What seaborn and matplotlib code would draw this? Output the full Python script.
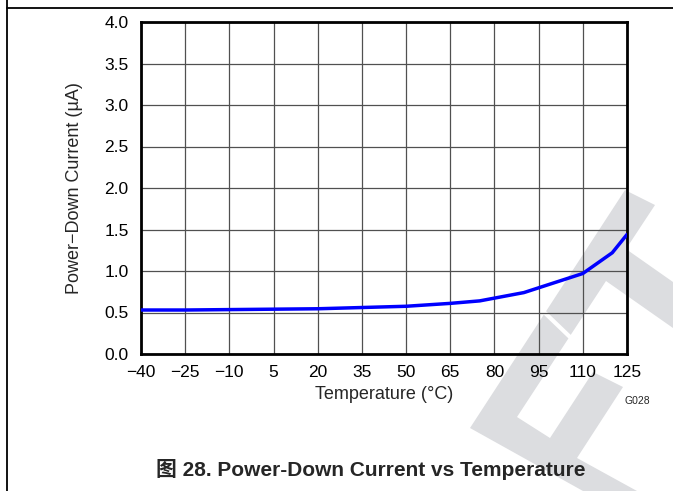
import matplotlib
matplotlib.use('Agg')
import matplotlib.pyplot as plt
import seaborn as sns
import numpy as np
from matplotlib.patches import Polygon
from matplotlib.lines import Line2D

# values
temps = [-40, -25, -10, 5, 20, 35, 50, 65, 75, 90, 110, 120, 125]
current = [0.53, 0.53, 0.535, 0.54, 0.545, 0.56, 0.575, 0.61, 0.64, 0.74, 0.97, 1.22, 1.44]
x_ticks = list(range(-40, 126, 15))
y_ticks = [0.0, 0.5, 1.0, 1.5, 2.0, 2.5, 3.0, 3.5, 4.0]

sns.set_style('white')
plt.rcParams['font.family'] = ['Liberation Sans', 'Noto Sans CJK SC', 'DejaVu Sans']

W, H = 673, 491
fig = plt.figure(figsize=(W / 100, H / 100), dpi=100)

def fx(px):
    return px / W

def fy(py):
    return 1 - py / H

# light gray watermark behind the plot
wm = [(470, 428), (625, 190), (655, 205), (626, 249), (673, 282), (673, 328),
      (606, 281), (517, 417), (550, 438), (593, 372), (623, 387), (577, 458),
      (637, 491), (583, 491)]
fig.add_artist(Polygon([(fx(x), fy(y)) for x, y in wm], closed=True,
                       transform=fig.transFigure, facecolor='#dcdde0',
                       edgecolor='none', zorder=-5))
fig.add_artist(Line2D([fx(545), fx(570)], [fy(313), fy(337)], transform=fig.transFigure,
                      color='white', linewidth=3, zorder=-4))

# page frame lines
fig.add_artist(Line2D([fx(7), 1], [fy(8), fy(8)], transform=fig.transFigure,
                      color='black', linewidth=1.3))
fig.add_artist(Line2D([fx(7), fx(7)], [0, 1], transform=fig.transFigure,
                      color='black', linewidth=1.3))

ax = fig.add_axes([fx(141), fy(354), fx(627) - fx(141), fy(22) - fy(354)])
ax.set_facecolor('none')

sns.lineplot(x=temps, y=current, color='blue', linewidth=2.5, ax=ax, zorder=3)

ax.set_xlim(-40, 125)
ax.set_ylim(0, 4)
ax.set_xticks(x_ticks)
ax.set_yticks(y_ticks)
ax.set_yticklabels([f'{v:.1f}' for v in y_ticks])
ax.grid(True, color='#505050', linewidth=0.9)
ax.set_axisbelow(True)
ax.tick_params(axis='both', length=0, labelsize=12.5, colors='black')
ax.tick_params(axis='x', pad=8)
ax.tick_params(axis='y', pad=9)
for s in ax.spines.values():
    s.set_visible(True)
    s.set_color('black')
    s.set_linewidth(2)

ax.set_xlabel('Temperature (°C)', fontsize=13, labelpad=4)
ax.set_ylabel('Power−Down Current (µA)', fontsize=13, labelpad=15)

fig.text(fx(650), fy(401), 'G028', fontsize=7.5, ha='right', va='center')
fig.text(fx(371), fy(470), '图 28. Power-Down Current vs Temperature', fontsize=15,
         fontweight='bold', ha='center', va='center')

fig.savefig('out.png', dpi=100)
